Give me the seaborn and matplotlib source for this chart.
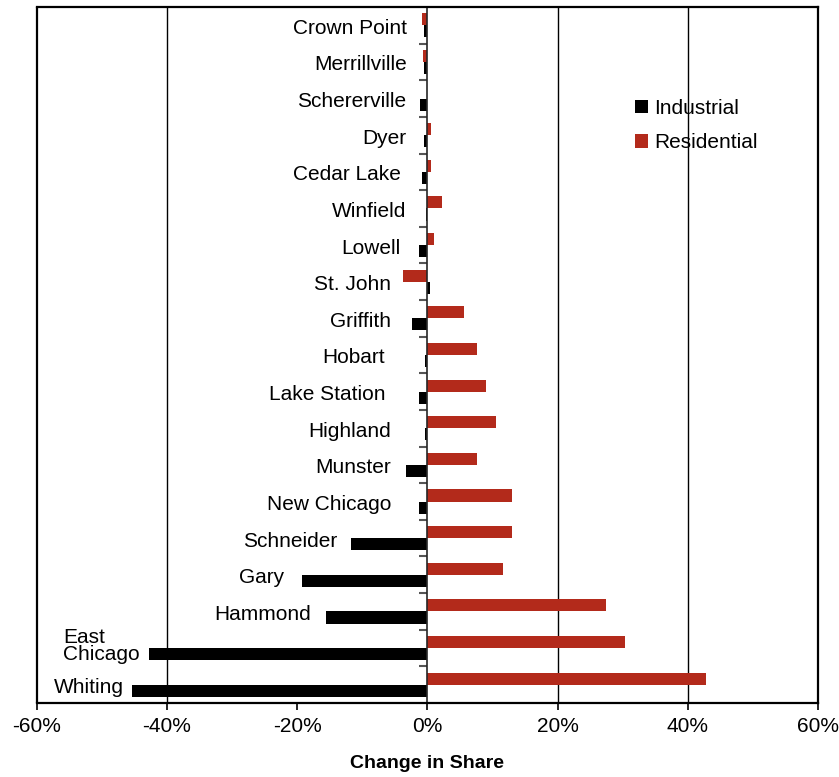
import matplotlib
matplotlib.use("Agg")
import matplotlib.pyplot as plt
from matplotlib.patches import Patch
import numpy as np
import pandas as pd
import seaborn as sns

sns.set_theme(style="white")
plt.rcParams['font.family'] = ['Liberation Sans', 'DejaVu Sans']
plt.rcParams['text.color'] = 'black'
plt.rcParams['axes.labelcolor'] = 'black'
plt.rcParams['xtick.color'] = 'black'

# Data: change in land-use share by town (%)
towns = ['Crown Point', 'Merrillville', 'Schererville', 'Dyer', 'Cedar Lake',
         'Winfield', 'Lowell', 'St. John', 'Griffith', 'Hobart', 'Lake Station',
         'Highland', 'Munster', 'New Chicago', 'Schneider', 'Gary', 'Hammond',
         'East\nChicago', 'Whiting']
industrial = [-0.5, -0.5, -1.1, -0.5, -0.8, -0.2, -1.3, 0.4, -2.4, -0.4, -1.3,
              -0.4, -3.3, -1.3, -11.8, -19.3, -15.6, -42.8, -45.3]
residential = [-0.8, -0.7, 0.0, 0.5, 0.5, 2.3, 1.0, -3.8, 5.6, 7.6, 9.0,
               10.5, 7.6, 13.0, 13.0, 11.6, 27.5, 30.3, 42.8]

# where each town label ends (x, in %)
label_right = [-3.2, -3.2, -3.2, -3.2, -4.1, -3.2, -4.1, -5.6, -5.6, -6.5, -6.5,
               -5.6, -5.6, -5.6, -13.9, -22.0, -17.9, -44.2, -46.6]
grid_at = [-40, 20, 40]

RED = '#B32A1B'

df = pd.DataFrame({
    'town': towns * 2,
    'sector': ['Industrial'] * len(towns) + ['Residential'] * len(towns),
    'change': industrial + residential,
})

fig = plt.figure(figsize=(8.39, 7.77), dpi=100)
ax = fig.add_axes([0.0437, 0.0952, 0.9313, 0.8958])

for g in grid_at:
    ax.axvline(g, color='black', linewidth=1.0, zorder=0)

sns.barplot(data=df, y='town', x='change', hue='sector', order=towns,
            hue_order=['Residential', 'Industrial'],
            palette={'Residential': RED, 'Industrial': 'black'},
            saturation=1, width=0.66, orient='h', linewidth=0, errorbar=None,
            legend=False, ax=ax, zorder=2)

ax.set_xlim(-60, 60)
ax.set_ylim(len(towns) - 0.5, -0.5)

# left spine acts as the zero line; redraw the outer frame edge
ax.spines['left'].set_position(('data', 0))
ax.spines['left'].set_linewidth(1.2)
ax.axvline(-60, color='black', linewidth=1.6, clip_on=False, zorder=3)
for s in ['top', 'right', 'bottom']:
    ax.spines[s].set_color('black')
    ax.spines[s].set_linewidth(1.6)

ax.set_xticks(np.arange(-60, 61, 20))
ax.set_xticklabels([f'{v}%' for v in range(-60, 61, 20)], fontsize=15)
ax.tick_params(axis='x', direction='out', length=5, width=1.2, color='black',
               bottom=True, pad=5)

ax.set_yticks(range(len(towns)))
ax.set_yticklabels([])
ax.tick_params(axis='y', which='major', length=0)
ax.set_yticks(np.arange(0.5, len(towns) - 0.5, 1), minor=True)
ax.tick_params(axis='y', which='minor', left=True, direction='out',
               length=6, width=1.5, color='#555555')

for i, (name, xr) in enumerate(zip(towns, label_right)):
    dy = -0.05 if '\n' in name else 0.08
    ax.text(xr, i + dy, name, ha='right', va='center', fontsize=15,
            multialignment='left', linespacing=0.85, color='black')

ax.set_ylabel('')
ax.set_xlabel('Change in Share', fontsize=14, fontweight='bold', labelpad=14)

handles = [Patch(facecolor='black', edgecolor='none', label='Industrial'),
           Patch(facecolor=RED, edgecolor='none', label='Residential')]
ax.legend(handles=handles, loc='upper left', bbox_to_anchor=(0.752, 0.883),
          frameon=False, fontsize=15, handlelength=0.65, handleheight=0.65,
          handletextpad=0.3, labelspacing=0.75, borderpad=0)

fig.savefig('out.png', dpi=100)
